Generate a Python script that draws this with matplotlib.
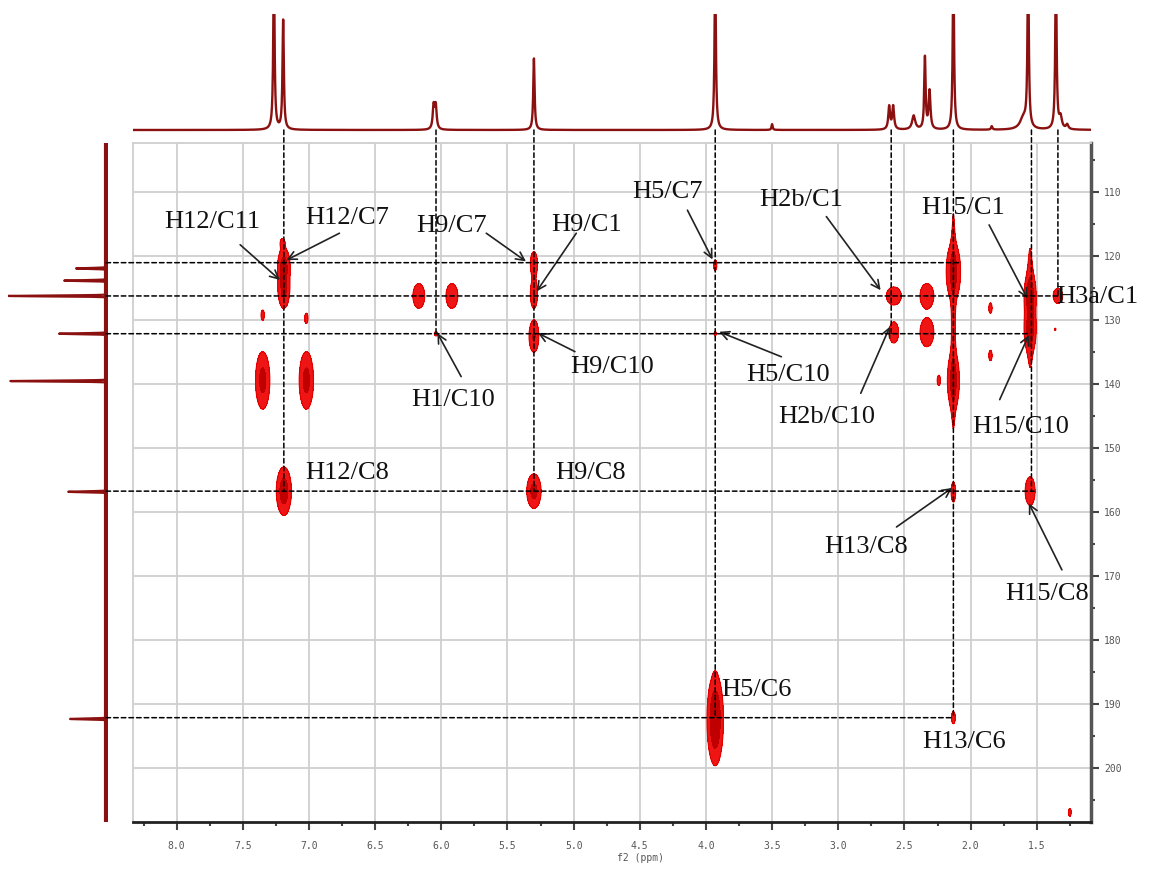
import numpy as np
import matplotlib.pyplot as plt
from matplotlib.patches import ConnectionPatch
from matplotlib.ticker import MultipleLocator, FormatStrFormatter

# 1H projection (top): shift ppm, relative height, half width ppm
h1_shift = [7.265, 7.195, 6.058, 6.042, 5.30, 3.93, 3.50, 2.615, 2.585, 2.43,
            2.345, 2.31, 2.13, 1.84, 1.60, 1.565, 1.355, 1.32, 1.27]
h1_height = [1.4, 0.95, 0.2, 0.2, 0.62, 1.4, 0.05, 0.2, 0.2, 0.12,
             0.62, 0.33, 1.4, 0.03, 0.1, 1.4, 1.4, 0.1, 0.04]
h1_width = [0.006, 0.006, 0.008, 0.008, 0.006, 0.006, 0.005, 0.008, 0.008, 0.014,
            0.006, 0.008, 0.006, 0.006, 0.03, 0.006, 0.006, 0.012, 0.01]

# 13C projection (left): shift ppm, relative length
c13_shift = [122.0, 123.9, 126.3, 132.2, 139.6, 156.9, 192.4]
c13_height = [0.30, 0.42, 0.98, 0.47, 0.96, 0.38, 0.36]

# HMBC cross peaks: 1H ppm, 13C ppm, amplitude, sigma 1H, sigma 13C
pk_h = [7.19, 7.19, 7.20, 7.35, 7.02, 7.35, 7.02, 6.17, 5.92, 6.04,
        5.30, 5.30, 5.30, 7.19, 5.30, 3.93, 3.93, 3.93, 3.93,
        2.58, 2.58, 2.33, 2.33, 2.13, 2.13, 2.13, 2.13, 2.13, 2.24,
        1.85, 1.85, 1.55, 1.55, 1.55, 1.34, 1.36, 1.55, 1.25]
pk_c = [121.5, 125.0, 118.0, 129.3, 129.8, 139.5, 139.5, 126.3, 126.3, 132.2,
        121.3, 126.0, 132.6, 156.8, 156.8, 121.5, 132.2, 192.5, 186.0,
        126.3, 132.0, 126.3, 132.0, 130.0, 122.5, 139.5, 157.0, 192.2, 139.5,
        128.2, 135.6, 128.0, 126.3, 131.5, 126.3, 131.5, 156.8, 207.0]
pk_amp = [1.5, 1.5, 0.5, 0.5, 0.5, 1.5, 1.5, 0.9, 0.9, 0.45,
          0.9, 0.9, 1.2, 1.8, 1.5, 0.5, 0.4, 2.5, 0.4,
          0.8, 0.6, 0.9, 0.9, 0.6, 1.5, 1.5, 0.7, 0.6, 0.5,
          0.5, 0.5, 0.7, 1.5, 1.5, 0.6, 0.35, 0.9, 0.5]
pk_sh = [0.025, 0.025, 0.015, 0.012, 0.012, 0.03, 0.03, 0.03, 0.03, 0.012,
         0.018, 0.018, 0.022, 0.03, 0.03, 0.012, 0.01, 0.03, 0.01,
         0.04, 0.03, 0.035, 0.035, 0.012, 0.03, 0.025, 0.012, 0.012, 0.012,
         0.012, 0.012, 0.015, 0.025, 0.025, 0.03, 0.01, 0.025, 0.01]
pk_sc = [1.5, 1.8, 0.6, 0.8, 0.8, 2.5, 2.5, 1.3, 1.3, 0.4,
         1.3, 1.5, 1.5, 2.0, 1.5, 0.8, 0.5, 3.5, 0.6,
         1.0, 1.4, 1.3, 1.5, 14.0, 2.5, 2.5, 1.0, 0.8, 0.8,
         0.8, 0.8, 7.0, 2.0, 2.0, 1.0, 0.3, 1.5, 0.6]

# dashed guides
vguide_h = [7.19, 6.04, 5.30, 3.93, 2.60, 2.13, 1.54, 1.34]
vguide_c = [156.8, 132.2, 156.8, 192.2, 132.2, 192.2, 156.8, 126.3]
hguide_c = [121.1, 126.3, 132.2, 156.8, 192.2]
hguide_h = [2.07, 1.34, 1.56, 1.52, 2.13]

# labels: name, text (h, c), arrow tail (h, c), arrow head (h, c)
labels = [
    ("H12/C11", (7.73, 114.7), (7.52, 118.3), (7.22, 123.8)),
    ("H12/C7", (6.71, 114.1), (6.77, 116.5), (7.17, 120.7)),
    ("H9/C7", (5.92, 115.4), (5.66, 116.5), (5.36, 120.9)),
    ("H9/C1", (4.90, 115.2), (4.98, 116.5), (5.28, 125.6)),
    ("H1/C10", (5.91, 142.5), (5.85, 138.9), (6.03, 132.1)),
    ("H9/C10", (4.71, 137.4), (4.99, 135.0), (5.27, 132.1)),
    ("H5/C7", (4.29, 110.0), (4.14, 112.9), (3.95, 120.6)),
    ("H5/C10", (3.38, 138.6), (3.43, 135.8), (3.90, 131.9)),
    ("H2b/C1", (3.28, 111.3), (3.09, 113.9), (2.68, 125.4)),
    ("H2b/C10", (3.09, 145.2), (2.83, 141.5), (2.61, 131.1)),
    ("H15/C1", (2.06, 112.6), (1.86, 115.2), (1.57, 126.7)),
    ("H15/C10", (1.62, 146.7), (1.78, 142.5), (1.56, 132.4)),
    ("H3a/C1", (1.04, 126.5), None, None),
    ("H12/C8", (6.71, 154.0), None, None),
    ("H9/C8", (4.87, 154.0), None, None),
    ("H13/C8", (2.79, 165.5), (2.56, 162.4), (2.14, 156.3)),
    ("H15/C8", (1.42, 172.9), (1.31, 169.1), (1.56, 158.7)),
    ("H5/C6", (3.62, 187.9), None, None),
    ("H13/C6", (2.05, 196.0), None, None),
]

XLIM = (8.33, 1.09)
YLIM = (208.5, 102.4)
W, H = 1159, 872
SPEC = "#8b1010"

fig = plt.figure(figsize=(W / 100, H / 100), dpi=100)
ax = fig.add_axes([133 / W, 1 - 822 / H, 958 / W, 679 / H])
ax_top = fig.add_axes([133 / W, 1 - 133 / H, 958 / W, 119 / H])
ax_left = fig.add_axes([8 / W, 1 - 822 / H, 100 / W, 679 / H])

# contour map
hh = np.linspace(XLIM[1], XLIM[0], 1600)
cc = np.linspace(YLIM[1], YLIM[0], 1000)
HH, CC = np.meshgrid(hh, cc)
Z = np.zeros_like(HH)
for h0, c0, a, sh, sc in zip(pk_h, pk_c, pk_amp, pk_sh, pk_sc):
    Z += a * np.exp(-0.5 * ((HH - h0) / sh) ** 2 - 0.5 * ((CC - c0) / sc) ** 2)
ax.contourf(HH, CC, Z, levels=[0.3, 1.1, 1e3], colors=["#f01515", "#c00000"], zorder=2)
ax.contour(HH, CC, Z, levels=[0.3], colors=["#e00000"], linewidths=0.8, zorder=2)

ax.set_xlim(*XLIM)
ax.set_ylim(*YLIM)
ax.xaxis.set_major_locator(MultipleLocator(0.5))
ax.xaxis.set_minor_locator(MultipleLocator(0.25))
ax.xaxis.set_major_formatter(FormatStrFormatter("%.1f"))
ax.yaxis.set_major_locator(MultipleLocator(10))
ax.yaxis.set_minor_locator(MultipleLocator(5))
ax.yaxis.tick_right()
ax.grid(True, which="major", color="#cfcfcf", lw=1.3, zorder=0)
ax.set_axisbelow(True)
for s in ("top", "left"):
    ax.spines[s].set_color("#cfcfcf")
    ax.spines[s].set_linewidth(1.3)
ax.spines["right"].set_color("#555555")
ax.spines["right"].set_linewidth(2.5)
ax.spines["bottom"].set_color("#222222")
ax.spines["bottom"].set_linewidth(2)
ax.tick_params(axis="both", which="major", length=6, width=1.5, color="#444444",
               labelsize=7, labelcolor="#555555", labelfontfamily="DejaVu Sans Mono")
ax.tick_params(axis="both", which="minor", length=3, width=1.5, color="#444444")
ax.tick_params(axis="x", pad=8)
ax.set_xlabel("f2 (ppm)", fontsize=7, color="#555555", family="DejaVu Sans Mono", labelpad=4)
ax.xaxis.set_label_coords(0.53, -0.045)

# 1H projection
x1 = np.linspace(XLIM[1], XLIM[0], 6000)
y1 = np.zeros_like(x1)
for s0, a, w in zip(h1_shift, h1_height, h1_width):
    y1 += a / (1 + ((x1 - s0) / w) ** 2)
ax_top.plot(x1, y1, color=SPEC, lw=1.7)
ax_top.set_xlim(*XLIM)
ax_top.set_ylim(-0.026, 1.0)
ax_top.axis("off")

# 13C projection
y13 = np.linspace(YLIM[1], YLIM[0], 6000)
x13 = np.zeros_like(y13)
for s0, a in zip(c13_shift, c13_height):
    x13 -= a * np.exp(-0.5 * ((y13 - s0) / 0.07) ** 2)
ax_left.plot(x13, y13, color=SPEC, lw=1.6)
ax_left.axvline(0, color=SPEC, lw=3)
ax_left.set_xlim(-0.98, 0.02)
ax_left.set_ylim(*YLIM)
ax_left.axis("off")

# dashed guide lines
for h0, c0 in zip(vguide_h, vguide_c):
    cp = ConnectionPatch(xyA=(h0, 0), coordsA=ax_top.transData, xyB=(h0, c0),
                         coordsB=ax.transData, ls=(0, (3, 2)), lw=1.1, color="k", zorder=5)
    fig.add_artist(cp)
for c0, h0 in zip(hguide_c, hguide_h):
    cp = ConnectionPatch(xyA=(0, c0), coordsA=ax_left.transData, xyB=(h0, c0),
                         coordsB=ax.transData, ls=(0, (3, 2)), lw=1.1, color="k", zorder=5)
    fig.add_artist(cp)

# labels and arrows
for name, tpos, tail, head in labels:
    ax.text(tpos[0], tpos[1], name, ha="center", va="center", fontsize=19,
            family="Liberation Serif", color="#111111", clip_on=False, zorder=6)
    if tail is not None:
        ax.annotate("", xy=head, xytext=tail, annotation_clip=False, zorder=6,
                    arrowprops=dict(arrowstyle="->,head_length=0.6,head_width=0.3",
                                    color="#222222", lw=1.2, shrinkA=0, shrinkB=0))

fig.savefig("out.png", dpi=100)
